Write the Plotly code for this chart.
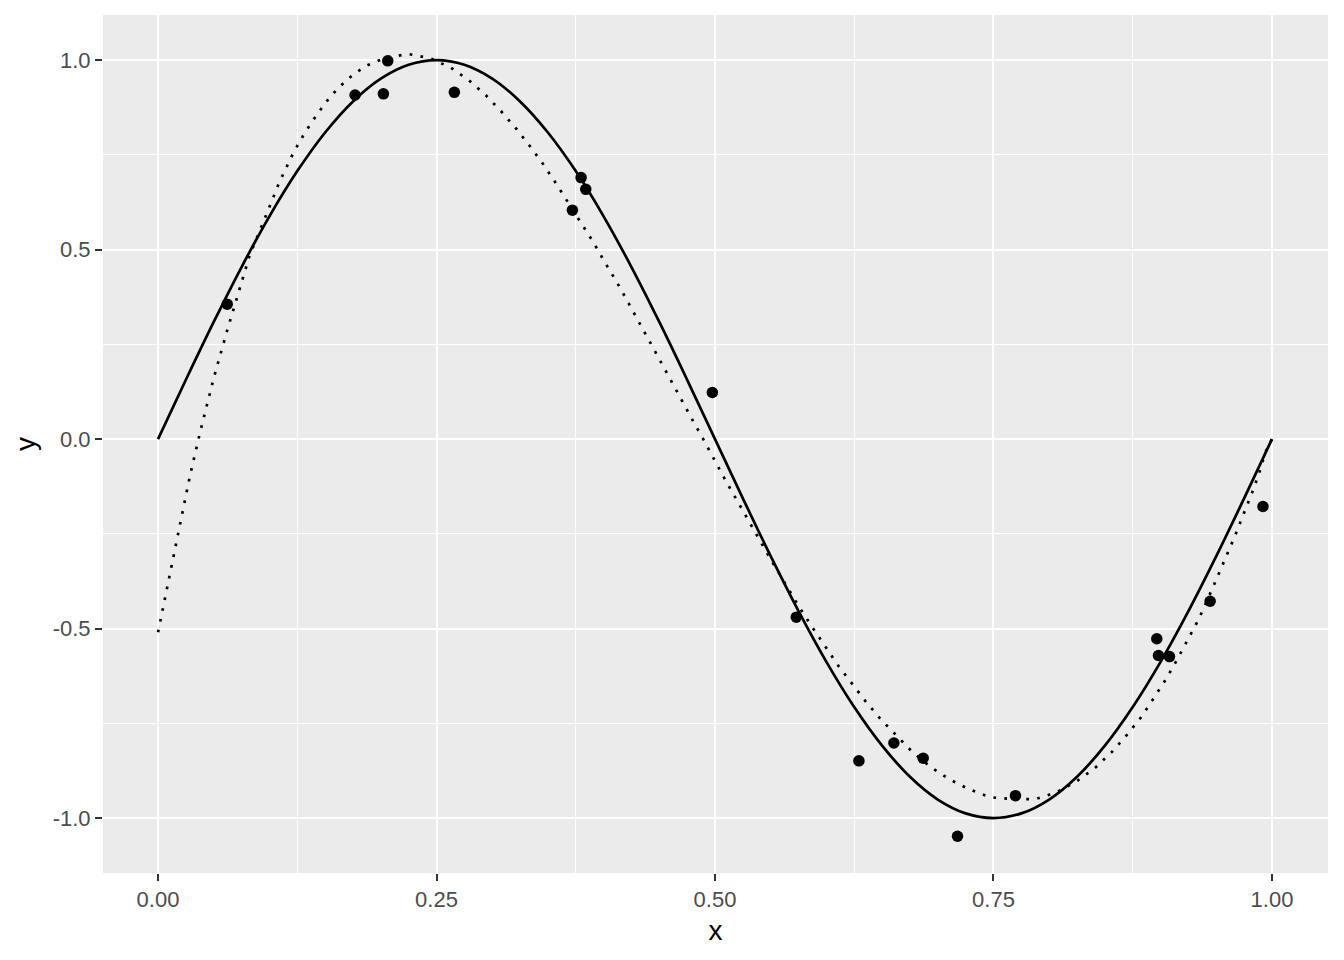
import plotly.graph_objects as go

# observed points
point_x = [0.0621, 0.1769, 0.2023, 0.2062, 0.2660, 0.3720, 0.3798, 0.3840, 0.4976, 0.5730,
           0.6292, 0.6606, 0.6869, 0.7177, 0.7697, 0.8966, 0.8981, 0.9080, 0.9445, 0.9919]
point_y = [0.356, 0.908, 0.911, 0.998, 0.915, 0.604, 0.690, 0.659, 0.123, -0.470,
           -0.849, -0.802, -0.842, -1.048, -0.941, -0.527, -0.571, -0.574, -0.428, -0.178]

# true curve (solid), read at x step 0.025
sine_x = [0.000, 0.025, 0.050, 0.075, 0.100, 0.125, 0.150, 0.175, 0.200, 0.225,
          0.250, 0.275, 0.300, 0.325, 0.350, 0.375, 0.400, 0.425, 0.450, 0.475,
          0.500, 0.525, 0.550, 0.575, 0.600, 0.625, 0.650, 0.675, 0.700, 0.725,
          0.750, 0.775, 0.800, 0.825, 0.850, 0.875, 0.900, 0.925, 0.950, 0.975, 1.000]
sine_y = [0.0, 0.1564, 0.3090, 0.4540, 0.5878, 0.7071, 0.8090, 0.8910, 0.9511, 0.9877,
          1.0, 0.9877, 0.9511, 0.8910, 0.8090, 0.7071, 0.5878, 0.4540, 0.3090, 0.1564,
          0.0, -0.1564, -0.3090, -0.4540, -0.5878, -0.7071, -0.8090, -0.8910, -0.9511, -0.9877,
          -1.0, -0.9877, -0.9511, -0.8910, -0.8090, -0.7071, -0.5878, -0.4540, -0.3090, -0.1564, 0.0]

# fitted curve (dotted)
fit_x = [0.000, 0.016, 0.0285, 0.038, 0.050, 0.0615, 0.0734, 0.0824, 0.0968, 0.1088,
         0.1214, 0.1319, 0.1433, 0.1553, 0.1694, 0.1859, 0.2053, 0.2248, 0.2443, 0.2629,
         0.2793, 0.2943, 0.3086, 0.3221, 0.3346, 0.3466, 0.3580, 0.3690, 0.3804, 0.3909,
         0.4010, 0.4115, 0.4216, 0.4318, 0.4414, 0.4513, 0.4608, 0.4707, 0.4806, 0.4907,
         0.5000, 0.5096, 0.5200, 0.5299, 0.5401, 0.5499, 0.5664, 0.5768, 0.5879, 0.5993,
         0.6107, 0.6232, 0.6352, 0.6487, 0.6627, 0.6770, 0.6929, 0.7100, 0.7273, 0.7467,
         0.7667, 0.7877, 0.8067, 0.8246, 0.8411, 0.8561, 0.8696, 0.8825, 0.8936, 0.9050,
         0.9152, 0.9245, 0.9341, 0.9469, 0.9589, 0.9670, 0.9745, 0.9820, 0.9889, 0.9940, 1.000]
fit_y = [-0.510, -0.276, -0.099, 0.021, 0.161, 0.281, 0.400, 0.486, 0.589, 0.677,
         0.755, 0.809, 0.859, 0.906, 0.948, 0.984, 1.007, 1.016, 1.005, 0.980,
         0.946, 0.907, 0.863, 0.817, 0.770, 0.722, 0.671, 0.621, 0.570, 0.519,
         0.467, 0.416, 0.363, 0.310, 0.257, 0.204, 0.152, 0.099, 0.046, -0.007,
         -0.059, -0.110, -0.163, -0.215, -0.267, -0.317, -0.398, -0.449, -0.499, -0.550,
         -0.598, -0.646, -0.692, -0.739, -0.781, -0.825, -0.864, -0.897, -0.923, -0.945,
         -0.950, -0.950, -0.932, -0.903, -0.868, -0.826, -0.781, -0.734, -0.685, -0.633,
         -0.580, -0.529, -0.476, -0.392, -0.310, -0.254, -0.198, -0.143, -0.086, -0.035, 0.000]

x_tick_vals = [0.0, 0.25, 0.5, 0.75, 1.0]
x_tick_text = ["0.00", "0.25", "0.50", "0.75", "1.00"]
y_tick_vals = [-1.0, -0.5, 0.0, 0.5, 1.0]
y_tick_text = ["-1.0", "-0.5", "0.0", "0.5", "1.0"]

FONT = "Liberation Sans, Arial, Helvetica, sans-serif"

fig = go.Figure()
fig.add_trace(go.Scatter(x=sine_x, y=sine_y, mode="lines", line_shape="spline",
                         line=dict(color="black", width=2.7), hoverinfo="skip"))
fig.add_trace(go.Scatter(x=fit_x, y=fit_y, mode="lines",
                         line=dict(color="black", width=2.7, dash="2.7px,8.3px"), hoverinfo="skip"))
fig.add_trace(go.Scatter(x=point_x, y=point_y, mode="markers",
                         marker=dict(color="black", size=11.5), hoverinfo="skip"))

axis_common = dict(
    showgrid=True, gridcolor="white", gridwidth=2.4,
    zeroline=False, showline=False,
    ticks="outside", ticklen=7, tickwidth=2.4, tickcolor="#333333",
    tickfont=dict(family=FONT, size=22, color="#4D4D4D"),
)

fig.update_layout(
    width=1344, height=960,
    margin=dict(l=95, r=24, t=7, b=95),
    paper_bgcolor="white", plot_bgcolor="#EBEBEB",
    showlegend=False,
    font=dict(family=FONT),
    xaxis=dict(range=[-0.0494, 1.0503], tickvals=x_tick_vals, ticktext=x_tick_text,
               minor=dict(tickvals=[0.125, 0.375, 0.625, 0.875], showgrid=True,
                          gridcolor="white", gridwidth=1.2, ticks=""),
               title=dict(text="x", font=dict(family=FONT, size=28, color="black"), standoff=8),
               automargin=False,
               **axis_common),
    yaxis=dict(range=[-1.145, 1.119], tickvals=y_tick_vals, ticktext=y_tick_text,
               minor=dict(tickvals=[-0.75, -0.25, 0.25, 0.75], showgrid=True,
                          gridcolor="white", gridwidth=1.2, ticks=""),
               title=dict(text="y", font=dict(family=FONT, size=28, color="black"), standoff=8),
               automargin=False,
               **axis_common),
)

fig.write_html("out.html")
